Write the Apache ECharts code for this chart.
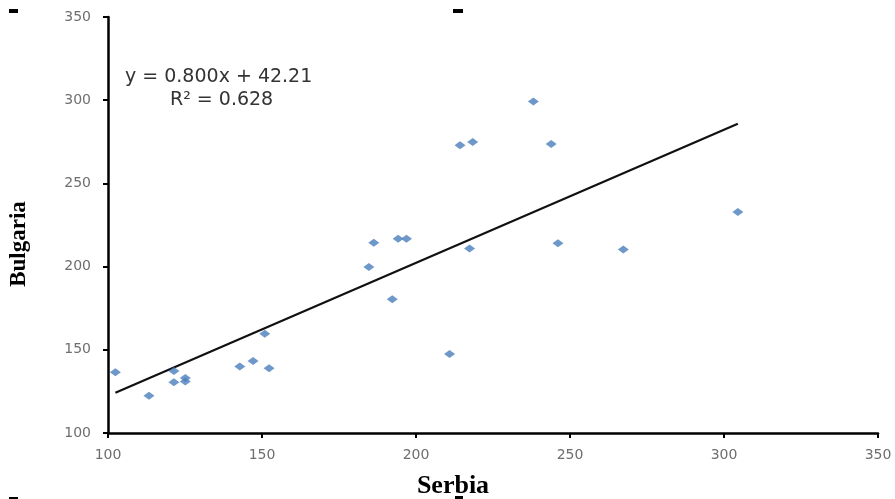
<!DOCTYPE html>
<html>
<head>
<meta charset="utf-8">
<script src="https://cdn.jsdelivr.net/npm/echarts@6/dist/echarts.min.js"></script>
<style>
html,body{margin:0;padding:0;background:#fff;}
#chart{width:895px;height:499px;}
</style>
</head>
<body>
<div id="chart"></div>
<script>
// Data
var serbia   = [102.4, 113.3, 121.4, 121.4, 125.1, 125.1, 142.8, 147.1, 150.9, 152.3, 184.7, 186.3, 192.3, 194.2, 196.9, 210.9, 214.3, 217.4, 218.4, 238.1, 243.9, 246.1, 267.3, 304.5];
var bulgaria = [136.5, 122.4, 137.3, 130.5, 133.1, 130.9, 140.0, 143.3, 159.6, 138.9, 199.7, 214.3, 180.4, 216.7, 216.7, 147.5, 272.9, 210.9, 274.9, 299.2, 273.7, 214.1, 210.3, 232.8];
var xTicks = [100, 150, 200, 250, 300, 350];
var yTicks = [100, 150, 200, 250, 300, 350];
var slope = 0.800;
var intercept = 42.21;
var equationText = 'y = 0.800x + 42.21';
var r2Text = 'R\u00B2 = 0.628';
var xTitle = 'Serbia';
var yTitle = 'Bulgaria';

var points = serbia.map(function (x, i) { return [x, bulgaria[i]]; });
var xMin = Math.min.apply(null, serbia), xMax = Math.max.apply(null, serbia);
var trend = [[xMin, slope * xMin + intercept], [xMax, slope * xMax + intercept]];

var chart = echarts.init(document.getElementById('chart'));
var axisCommon = {
  type: 'value',
  min: xTicks[0], max: xTicks[xTicks.length - 1], interval: xTicks[1] - xTicks[0],
  axisLine: { show: true, lineStyle: { color: '#000', width: 2.5 } },
  axisTick: { show: true, inside: false, length: 5, lineStyle: { color: '#000', width: 2 } },
  splitLine: { show: false },
  axisLabel: { color: '#6e6e6e', fontFamily: 'DejaVu Sans', fontSize: 14 }
};
chart.setOption({
  backgroundColor: '#fff',
  animation: false,
  grid: { left: 108, right: 17, top: 17, bottom: 66 },
  xAxis: Object.assign({}, axisCommon, {
    axisLabel: Object.assign({}, axisCommon.axisLabel, { margin: 15 })
  }),
  yAxis: Object.assign({}, axisCommon, {
    min: yTicks[0], max: yTicks[yTicks.length - 1], interval: yTicks[1] - yTicks[0],
    axisLabel: Object.assign({}, axisCommon.axisLabel, { margin: 17 })
  }),
  series: [
    {
      type: 'scatter',
      data: points,
      symbol: 'diamond',
      symbolSize: [11, 8],
      itemStyle: { color: '#4a7ebb' },
      z: 3
    },
    {
      type: 'line',
      data: trend,
      showSymbol: false,
      symbol: 'none',
      lineStyle: { color: '#111', width: 2.2 },
      z: 2
    }
  ],
  graphic: [
    { type: 'text', left: 125, top: 68, style: { text: equationText, fontFamily: 'DejaVu Sans', fontSize: 19, fill: '#333' } },
    { type: 'text', left: 170, top: 91, style: { text: r2Text, fontFamily: 'DejaVu Sans', fontSize: 19, fill: '#333' } },
    { type: 'text', x: 453, y: 486, style: { text: xTitle, fontFamily: 'Liberation Serif', fontWeight: 'bold', fontSize: 26, fill: '#000', align: 'center', verticalAlign: 'middle' } },
    { type: 'text', x: 19, y: 244, rotation: Math.PI / 2, style: { text: yTitle, fontFamily: 'Liberation Serif', fontWeight: 'bold', fontSize: 23, fill: '#000', align: 'center', verticalAlign: 'middle' } },
    { type: 'rect', shape: { x: 9, y: 9, width: 9, height: 4 }, style: { fill: '#000' } },
    { type: 'rect', shape: { x: 453, y: 9, width: 10, height: 4 }, style: { fill: '#000' } },
    { type: 'rect', shape: { x: 9, y: 497, width: 9, height: 2 }, style: { fill: '#000' } },
    { type: 'rect', shape: { x: 455, y: 496, width: 8, height: 3 }, style: { fill: '#000' } }
  ]
});
</script>
</body>
</html>
